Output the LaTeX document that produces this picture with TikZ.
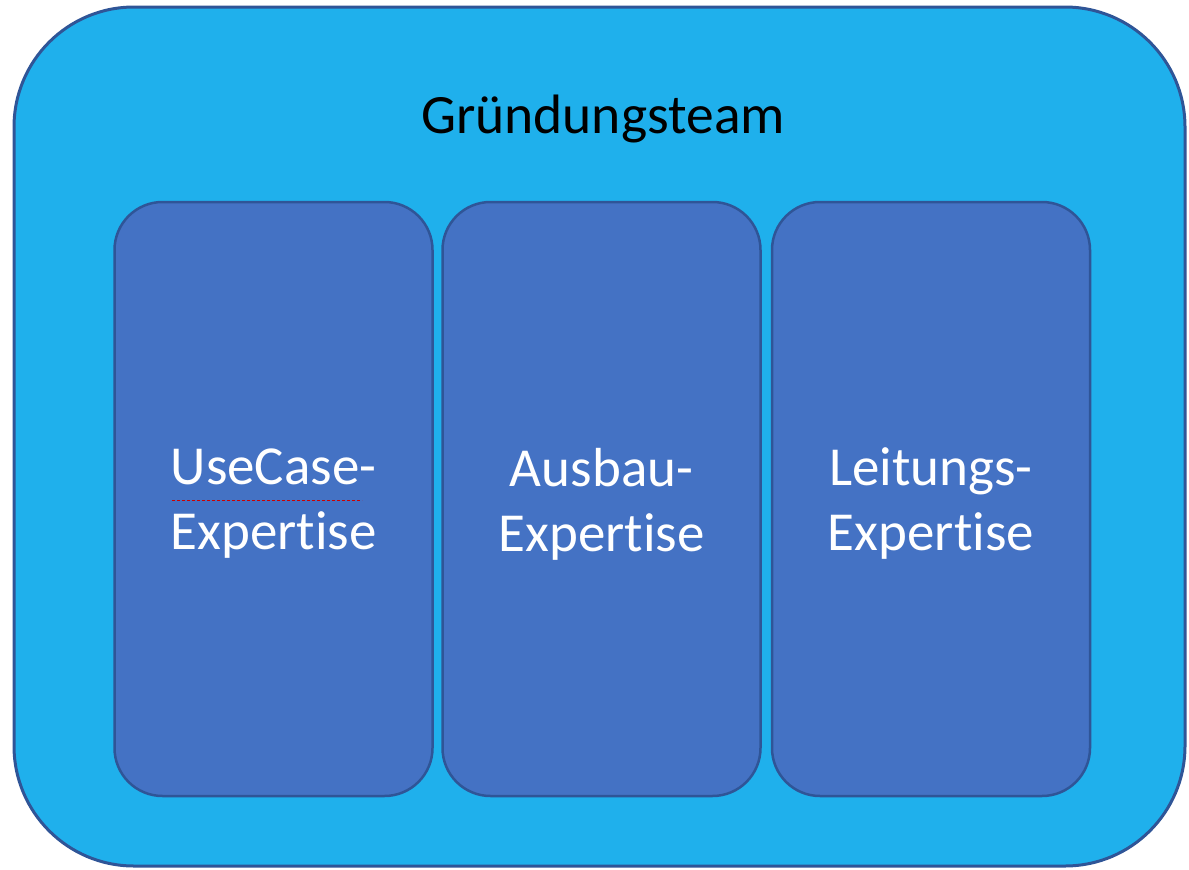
\documentclass[tikz,border=0pt]{standalone}
\usepackage{fontspec}
\setmainfont{Carlito}[RawFeature={-liga;-clig;-dlig;-calt}]
\definecolor{outerfill}{HTML}{1FB0EC}
\definecolor{outerline}{HTML}{2F5597}
\definecolor{innerfill}{HTML}{4472C4}
\definecolor{innerline}{HTML}{2F5597}
% "Expertise" set without the t-i ligature
\newcommand{\expword}{Exper\kern0pt t\kern0pt ise}
\begin{document}
\begin{tikzpicture}[x=1pt,y=-1pt,
  teambox/.style={draw=outerline, fill=outerfill, line width=3pt,
    rounded corners=120pt, minimum width=1171pt, minimum height=859pt,
    inner sep=0pt},
  skillbox/.style={draw=innerline, fill=innerfill, line width=2.5pt,
    rounded corners=48pt, minimum width=318pt, minimum height=594pt,
    inner sep=0pt},
  skilltext/.style={text=white, align=center,
    font=\fontsize{55}{65}\selectfont},
  titletext/.style={text=black, font=\fontsize{55.5}{66}\selectfont}]
  \useasboundingbox (0,0) rectangle (1189,870);
  \node[teambox] (team) at (599.5,436.5) {};
  \node[titletext, anchor=base] (title) at (603,133) {Gründungsteam};
  \node[skillbox] (usecase) at (273.5,499) {};
  \node[skillbox] (ausbau) at (601.5,499) {};
  \node[skillbox] (leitung) at (931,499) {};
  \node[skilltext] (t1) at ([yshift=-5pt]usecase.center) {UseCase-\\\expword};
  \node[skilltext] (t2) at ([yshift=-5pt]ausbau.center) {Ausbau-\\\expword};
  \node[skilltext] (t3) at ([yshift=-5pt]leitung.center) {Leitungs-\\\expword};
  % spell-check mark under the first word
  \coordinate (sq1) at (172,500);
  \coordinate (sq2) at (362,500);
  \draw[red!80!black, line width=0.8pt, dash pattern=on 3pt off 2pt] (sq1) -- (sq2);
\end{tikzpicture}
\end{document}
